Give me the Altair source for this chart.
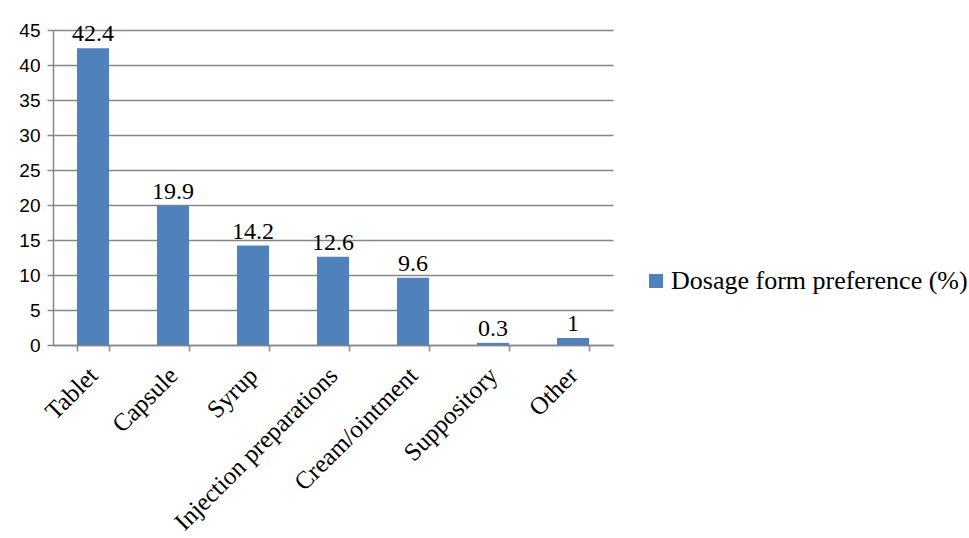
import altair as alt
import pandas as pd

categories = ["Tablet", "Capsule", "Syrup", "Injection preparations", "Cream/ointment", "Suppository", "Other"]
values = [42.4, 19.9, 14.2, 12.6, 9.6, 0.3, 1]
labels = ["42.4", "19.9", "14.2", "12.6", "9.6", "0.3", "1"]
series = "Dosage form preference (%)"

df = pd.DataFrame({"cat": categories, "val": values, "lab": labels, "series": [series] * len(categories)})

x = alt.X("cat:N", sort=categories, title=None,
          scale=alt.Scale(paddingInner=0.6, paddingOuter=0.3),
          axis=alt.Axis(labelAngle=-45, labelAlign="right", labelBaseline="middle",
                        labelFont="Liberation Serif", labelFontSize=25, labelColor="#000000",
                        labelPadding=20, tickBand="extent", tickSize=6, tickColor="#868686",
                        tickWidth=1.5, domainColor="#868686", domainWidth=1.5, grid=False,
                        labelLimit=400))
y = alt.Y("val:Q", title=None,
          scale=alt.Scale(domain=[0, 45], nice=False),
          axis=alt.Axis(values=list(range(0, 50, 5)), labelFont="Liberation Sans", labelFontSize=19,
                        labelColor="#000000", labelPadding=7, tickSize=6, tickColor="#868686",
                        tickWidth=1.5, domainColor="#868686", domainWidth=1.5,
                        grid=True, gridColor="#868686", gridWidth=1.5, labelOverlap=False))

bars = alt.Chart(df).mark_bar(size=32).encode(
    x=x, y=y,
    color=alt.Color("series:N", scale=alt.Scale(range=["#4F81BD"]), title=None,
                    legend=alt.Legend(orient="none", legendX=590, legendY=238,
                                      symbolType="square", symbolSize=196, symbolStrokeWidth=0,
                                      labelFont="Liberation Serif", labelFontSize=26,
                                      labelColor="#000000", labelLimit=500, labelOffset=2))
)

text = alt.Chart(df).mark_text(baseline="bottom", dy=-2, font="Liberation Serif", fontSize=24,
                               color="#000000").encode(
    x=x, y=y, text="lab:N")

chart = (bars + text).properties(
    width=560, height=315,
    background="#ffffff",
    autosize=alt.AutoSizeParams(type="none"),
    padding={"left": 53, "top": 30, "right": 356, "bottom": 193},
).configure_view(stroke=None)

chart.save("out.html", embed_options={"renderer": "svg", "actions": False})
